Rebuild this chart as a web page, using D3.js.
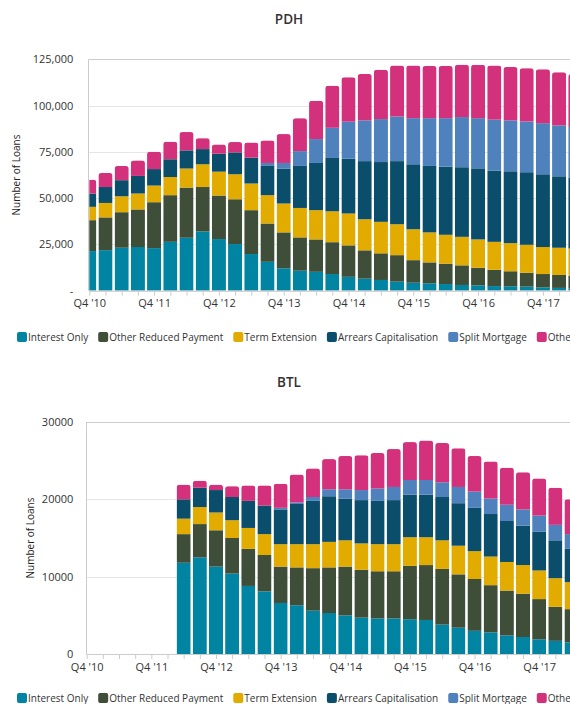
<!DOCTYPE html>
<html>
<head>
<meta charset="utf-8">
<script src="https://cdn.jsdelivr.net/npm/d3@7"></script>
<style>
  html, body { margin: 0; padding: 0; overflow: hidden; background: #fff; }
  svg { display: block; font-family: "Open Sans", sans-serif; }
</style>
</head>
<body>
<svg id="chart" width="600" height="704"></svg>
<script>
// Quarters on the x axis (only every 4th one gets a label)
const quarters = ["Q4 '10", "Q1 '11", "Q2 '11", "Q3 '11", "Q4 '11", "Q1 '12", "Q2 '12", "Q3 '12",
  "Q4 '12", "Q1 '13", "Q2 '13", "Q3 '13", "Q4 '13", "Q1 '14", "Q2 '14", "Q3 '14",
  "Q4 '14", "Q1 '15", "Q2 '15", "Q3 '15", "Q4 '15", "Q1 '16", "Q2 '16", "Q3 '16",
  "Q4 '16", "Q1 '17", "Q2 '17", "Q3 '17", "Q4 '17", "Q1 '18", "Q2 '18"];

const seriesNames = ["Interest Only", "Other Reduced Payment", "Term Extension",
  "Arrears Capitalisation", "Split Mortgage", "Other"];
const seriesColors = ["#0084a1", "#3e4e38", "#e2ab00", "#0b4e6b", "#4f81bd", "#d3317c"];

// PDH
const pdhInterestOnly = [21400, 21900, 23200, 23600, 23000, 26400, 28600, 32000, 27900, 25200, 19800, 15600, 12100, 10800, 10200, 9000, 7500, 6500, 5800, 4900, 4300, 4000, 3600, 3100, 2900, 2500, 2400, 2200, 1800, 1500, 1300];
const pdhOtherReduced = [16700, 17700, 19200, 20300, 24800, 25200, 27100, 24000, 23500, 24200, 23700, 20700, 19400, 18000, 17500, 17200, 17000, 15300, 14400, 14300, 12200, 11300, 11000, 10600, 9500, 8800, 8100, 7500, 7200, 7000, 6700];
const pdhTermExtension = [7200, 7800, 8600, 8600, 9000, 9800, 10300, 12300, 12900, 13500, 14400, 15300, 15600, 15900, 15800, 16700, 17200, 16800, 17000, 16700, 16700, 16200, 15600, 15400, 15300, 15100, 15200, 15100, 14600, 14700, 14800];
const pdhArrearsCap = [7200, 8600, 8700, 9500, 8900, 9600, 9800, 8200, 9700, 11800, 14000, 16100, 18900, 22700, 25500, 28800, 29600, 31400, 32300, 34100, 35100, 35900, 36800, 37600, 38400, 38500, 38800, 39200, 39300, 38600, 38200];
const pdhSplitMortgage = [0, 0, 0, 0, 0, 0, 0, 0, 0, 0, 0, 1300, 3000, 8000, 12900, 16300, 20000, 22000, 23200, 24100, 24900, 25800, 26200, 27100, 27100, 27500, 27500, 27400, 27600, 27500, 27500];
const pdhOther = [7500, 7600, 7700, 8400, 9400, 9500, 9900, 5900, 5000, 5600, 8100, 12200, 15600, 17800, 20700, 22700, 24000, 25100, 26600, 27500, 28400, 28200, 28200, 28300, 28800, 29200, 28900, 28800, 29100, 28700, 28500];

// BTL (no data before Q2 '12)
const btlInterestOnly = [null, null, null, null, null, null, 11800, 12500, 11300, 10400, 8800, 8100, 6600, 6300, 5600, 5300, 5000, 4700, 4600, 4600, 4500, 4400, 3800, 3400, 3000, 2800, 2400, 2200, 1900, 1700, 1500];
const btlOtherReduced = [null, null, null, null, null, null, 3700, 4300, 4700, 4600, 4800, 4700, 4700, 4900, 5500, 5900, 6300, 6200, 6100, 6100, 6900, 7100, 7200, 6900, 6700, 6100, 5800, 5600, 5200, 4400, 4300];
const btlTermExtension = [null, null, null, null, null, null, 2000, 2200, 2300, 2300, 2700, 2700, 2900, 3000, 3100, 3300, 3400, 3400, 3500, 3500, 3700, 3600, 3700, 3700, 3600, 3700, 3700, 3700, 3700, 3700, 3500];
const btlArrearsCap = [null, null, null, null, null, null, 2500, 2500, 2900, 3000, 3500, 3700, 4500, 5200, 5600, 5900, 5400, 5600, 5600, 5700, 5500, 5500, 5600, 5500, 5600, 5500, 5300, 5100, 5000, 4900, 4300];
const btlSplitMortgage = [null, null, null, null, null, null, 0, 0, 0, 0, 0, 0, 200, 200, 500, 900, 1200, 1300, 1600, 1700, 1900, 1900, 1900, 2100, 2100, 2000, 2100, 2100, 2100, 2000, 1900];
const btlOther = [null, null, null, null, null, null, 1900, 900, 700, 1400, 2000, 2600, 3100, 3600, 3700, 3900, 4300, 4500, 4600, 4900, 4900, 5100, 5100, 5000, 4600, 4800, 4800, 4800, 4800, 4800, 4500];

const pdhTicks = [0, 25000, 50000, 75000, 100000, 125000];
const btlTicks = [0, 10000, 20000, 30000];

const svg = d3.select("#chart");
const plotRight = 600; // plot runs past the window edge

function drawChart(cfg) {
  const g = svg.append("g");
  const keys = seriesNames;

  // Build rows for d3.stack
  const rows = quarters.map((q, i) => {
    const r = { quarter: q };
    keys.forEach((k, j) => { r[k] = cfg.values[j][i] || 0; });
    r.hasData = cfg.values[0][i] != null;
    return r;
  });
  const stacked = d3.stack().keys(keys)(rows);

  const x = d3.scalePoint()
    .domain(quarters)
    .range([cfg.left, cfg.left + cfg.pitch * (quarters.length - 1)]);
  const y = d3.scaleLinear()
    .domain([0, cfg.yMax])
    .range([cfg.bottom, cfg.top]);

  // Title
  g.append("text")
    .attr("x", 289)
    .attr("y", cfg.titleY)
    .attr("text-anchor", "middle")
    .attr("font-size", "13.5px")
    .attr("font-weight", "600")
    .attr("fill", "#333")
    .text(cfg.title);

  // Gridlines
  g.append("g")
    .selectAll("line")
    .data(cfg.ticks)
    .join("line")
    .attr("x1", cfg.left)
    .attr("x2", plotRight)
    .attr("y1", d => Math.round(y(d)) + 0.5)
    .attr("y2", d => Math.round(y(d)) + 0.5)
    .attr("stroke", "#e6e6e6");

  // Clip for plot area
  const clipId = "clip-" + cfg.title;
  g.append("clipPath").attr("id", clipId)
    .append("rect")
    .attr("x", cfg.left)
    .attr("y", cfg.top - 5)
    .attr("width", plotRight - cfg.left)
    .attr("height", cfg.bottom - cfg.top + 5);

  const bw = cfg.pitch * 0.87;
  const plot = g.append("g").attr("clip-path", `url(#${clipId})`);

  // One clip per column so the top of each stack gets rounded corners
  rows.forEach((r, i) => {
    if (!r.hasData) return;
    const total = stacked[stacked.length - 1][i][1];
    g.append("clipPath").attr("id", `${clipId}-col${i}`)
      .append("rect")
      .attr("x", x(r.quarter) - bw / 2)
      .attr("y", y(total))
      .attr("width", bw)
      .attr("height", y(0) - y(total) + 6)
      .attr("rx", 3);
  });

  stacked.forEach((layer, j) => {
    plot.append("g")
      .selectAll("rect")
      .data(layer.filter(d => d.data.hasData))
      .join("rect")
      .attr("clip-path", d => `url(#${clipId}-col${quarters.indexOf(d.data.quarter)})`)
      .attr("x", d => x(d.data.quarter) - bw / 2)
      .attr("y", d => y(d[1]))
      .attr("width", bw)
      .attr("height", d => Math.max(0, y(d[0]) - y(d[1])))
      .attr("fill", seriesColors[j]);
  });

  // Plot border: top and left
  g.append("line")
    .attr("x1", cfg.left - 0.5).attr("x2", plotRight)
    .attr("y1", Math.round(cfg.top) + 0.5).attr("y2", Math.round(cfg.top) + 0.5)
    .attr("stroke", "#ccc");
  g.append("line")
    .attr("x1", Math.round(cfg.left) - 0.5).attr("x2", Math.round(cfg.left) - 0.5)
    .attr("y1", cfg.top).attr("y2", cfg.bottom)
    .attr("stroke", "#ccc");

  // X axis
  const xAxis = g.append("g")
    .attr("transform", `translate(0,${cfg.bottom})`)
    .call(d3.axisBottom(x)
      .tickSize(5)
      .tickPadding(4)
      .tickFormat((d, i) => i % 4 === 0 ? d : ""));
  xAxis.select(".domain").attr("stroke", "#ccc").attr("d", `M${cfg.left},0.5H${plotRight}`);
  xAxis.selectAll(".tick line").attr("stroke", "#ccc");
  xAxis.selectAll(".tick text")
    .attr("font-size", "11px")
    .attr("font-family", "Open Sans, sans-serif")
    .attr("fill", "#333");

  // Y axis
  const yAxis = g.append("g")
    .attr("transform", `translate(${cfg.left},0)`)
    .call(d3.axisLeft(y)
      .tickValues(cfg.ticks)
      .tickSize(0)
      .tickPadding(cfg.left - 73.3)
      .tickFormat(cfg.format));
  yAxis.select(".domain").remove();
  yAxis.selectAll(".tick text")
    .attr("font-size", "11px")
    .attr("font-family", "Open Sans, sans-serif")
    .attr("fill", "#333");

  // Y axis title
  g.append("text")
    .attr("transform", `translate(${cfg.yTitleX},${(cfg.top + cfg.bottom) / 2}) rotate(-90)`)
    .attr("text-anchor", "middle")
    .attr("dy", "0.35em")
    .attr("font-size", "10px")
    .attr("fill", "#222")
    .text("Number of Loans");

  // Legend
  const legend = g.append("g").attr("transform", `translate(17,${cfg.legendY})`);
  let lx = 0;
  seriesNames.forEach((name, j) => {
    const item = legend.append("g").attr("transform", `translate(${lx},0)`);
    item.append("rect")
      .attr("x", 0).attr("y", -5)
      .attr("width", 10).attr("height", 10)
      .attr("rx", 2)
      .attr("fill", seriesColors[j]);
    const t = item.append("text")
      .attr("x", 11)
      .attr("y", 0)
      .attr("dy", "0.35em")
      .attr("font-size", "10px")
      .attr("fill", "#333")
      .text(name);
    lx += 11 + t.node().getComputedTextLength() + 10;
  });
}

drawChart({
  title: "PDH",
  titleY: 23.5,
  values: [pdhInterestOnly, pdhOtherReduced, pdhTermExtension, pdhArrearsCap, pdhSplitMortgage, pdhOther],
  yMax: 125000,
  ticks: pdhTicks,
  format: d => d === 0 ? "-" : d3.format(",")(d),
  top: 59.3,
  bottom: 290.7,
  left: 89.3,
  pitch: 16.2,
  yTitleX: 16.7,
  legendY: 337
});

drawChart({
  title: "BTL",
  titleY: 386.5,
  values: [btlInterestOnly, btlOtherReduced, btlTermExtension, btlArrearsCap, btlSplitMortgage, btlOther],
  yMax: 30000,
  ticks: btlTicks,
  format: d3.format("d"),
  top: 422,
  bottom: 654,
  left: 86.7,
  pitch: 16.16,
  yTitleX: 30,
  legendY: 698
});
</script>
</body>
</html>
